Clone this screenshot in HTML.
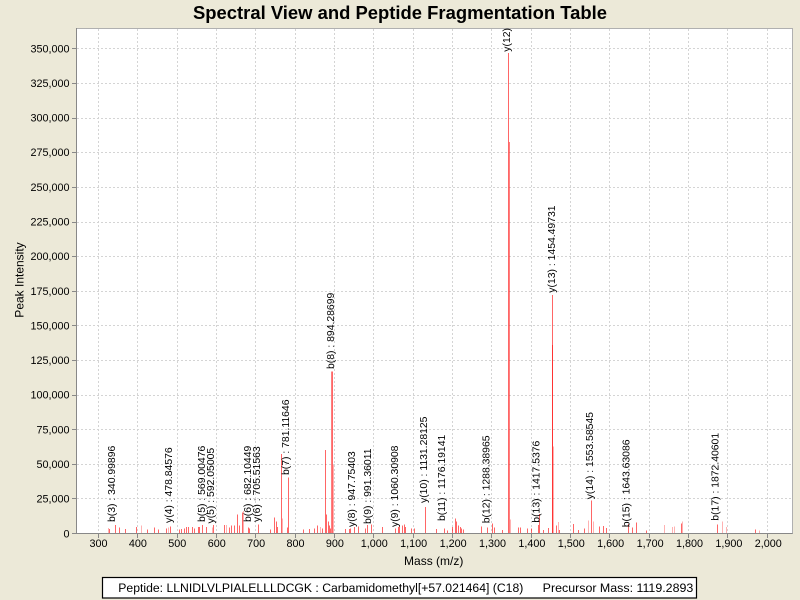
<!DOCTYPE html>
<html><head><meta charset="utf-8"><style>
html,body{margin:0;padding:0;background:#ece9d8;}
svg{display:block;}
text{font-family:"Liberation Sans",Arial,sans-serif;fill:#000;}
</style></head><body>
<svg width="800" height="600" viewBox="0 0 800 600" xmlns="http://www.w3.org/2000/svg">
<rect x="0" y="0" width="800" height="600" fill="#ece9d8"/>
<text x="400" y="19" text-anchor="middle" font-size="18" font-weight="bold" textLength="414" lengthAdjust="spacingAndGlyphs">Spectral View and Peptide Fragmentation Table</text>
<defs><clipPath id="pc"><rect x="76.5" y="28.5" width="716" height="505"/></clipPath></defs>
<rect x="76.5" y="28.5" width="716" height="505" fill="#fff" stroke="#b0b0b0" stroke-width="1"/>
<g stroke="#d4d4d4" stroke-width="1" stroke-dasharray="2,2" shape-rendering="crispEdges">
<path d="M98.5 29V533M137.5 29V533M177.5 29V533M216.5 29V533M255.5 29V533M295.5 29V533M334.5 29V533M373.5 29V533M413.5 29V533M452.5 29V533M491.5 29V533M531.5 29V533M570.5 29V533M609.5 29V533M649.5 29V533M688.5 29V533M727.5 29V533M767.5 29V533"/>
<path d="M77 48.5H792M77 83.5H792M77 118.5H792M77 152.5H792M77 187.5H792M77 222.5H792M77 256.5H792M77 291.5H792M77 325.5H792M77 360.5H792M77 395.5H792M77 429.5H792M77 464.5H792M77 498.5H792"/>
</g>
<g clip-path="url(#pc)" shape-rendering="crispEdges" fill="none">
<path stroke="#ff0000" stroke-opacity="0.6" stroke-width="1" d="M109.5 529V533.5M115.5 525V533.5M119.5 527.7V533.5M125.5 529V533.5M136.5 527V533.5M147.5 529.7V533.5M154.5 527.7V533.5M158.5 529.7V533.5M166.5 528.3V533.5M170.5 526.7V533.5M179.5 529.7V533.5M181.5 529V533.5M184.5 528.3V533.5M186.5 527V533.5M188.5 527V533.5M192.5 527V533.5M194.5 528.3V533.5M198.5 527V533.5M199.5 527V533.5M202.5 525V533.5M206.5 527V533.5M213.5 525V533.5M224.5 525V533.5M229.5 527.7V533.5M231.5 525.7V533.5M234.5 525.7V533.5M237.5 514.3V533.5M239.5 525.7V533.5M242.5 512.3V533.5M248.5 527.7V533.5M249.5 528.3V533.5M258.5 524.3V533.5M270.5 529.7V533.5M274.5 517.7V533.5M276.5 521.7V533.5M277.5 527V533.5M281.5 454V533.5M287.5 527.7V533.5M288.5 477.7V533.5M303.5 529.7V533.5M309.5 529V533.5M314.5 528.3V533.5M317.5 525.7V533.5M322.5 528.3V533.5M325.5 450V533.5M326.5 514.3V533.5M328.5 521.7V533.5M329.5 525.7V533.5M330.5 528.3V533.5M332.5 371.7V533.5M345.5 529V533.5M349.5 529V533.5M350.5 528.3V533.5M354.5 527V533.5M358.5 526.3V533.5M365.5 528.3V533.5M367.5 525V533.5M371.5 524.3V533.5M382.5 527V533.5M395.5 528.3V533.5M398.5 527V533.5M399.5 525.7V533.5M402.5 525.7V533.5M404.5 524.3V533.5M405.5 527V533.5M411.5 528.3V533.5M414.5 528.3V533.5M425.5 507V533.5M436.5 529V533.5M444.5 528.3V533.5M447.5 530.3V533.5M452.5 527V533.5M455.5 518.3V533.5M456.5 521.7V533.5M458.5 525.7V533.5M460.5 527V533.5M461.5 528.3V533.5M463.5 529.7V533.5M481.5 526.7V533.5M487.5 527.3V533.5M492.5 523.3V533.5M494.5 527.3V533.5M502.5 530V533.5M508.5 53V533.5M518.5 527.3V533.5M520.5 527.3V533.5M527.5 528.7V533.5M531.5 528.7V533.5M538.5 525V533.5M539.5 514V533.5M543.5 530V533.5M548.5 528V533.5M552.5 295V533.5M556.5 525.3V533.5M559.5 530V533.5M573.5 524V533.5M578.5 530V533.5M584.5 528.7V533.5M591.5 500.7V533.5M599.5 526.7V533.5M603.5 526V533.5M606.5 528V533.5M628.5 524V533.5M632.5 527.3V533.5M636.5 522.7V533.5M646.5 530.3V533.5M681.5 523.7V533.5M717.5 524.3V533.5M755.5 529.7V533.5"/>
<path stroke="#ff0000" stroke-opacity="0.3" stroke-width="1" d="M108.5 528V533.5M141.5 525.7V533.5M168.5 527.7V533.5M212.5 527.7V533.5M226.5 525V533.5M243.5 511V533.5M282.5 518.3V533.5M320.5 527V533.5M333.5 465V533.5M510.5 519.3V533.5M553.5 446.7V533.5M558.5 522V533.5M588.5 520.7V533.5M593.5 521.3V533.5M664.5 525V533.5M672.5 527V533.5M674.5 526.3V533.5M682.5 521.7V533.5M722.5 521.7V533.5M726.5 527V533.5M759.5 530.3V533.5"/>
<path stroke="#ff0000" stroke-opacity="0.5" stroke-width="1" d="M509.5 142V533.5M552.5 345V533.5M331.5 371.7V533.5"/>
<g font-size="10.4">
<text transform="translate(115,522) rotate(-90)">b(3) : 340.99896</text>
<text transform="translate(171.8,523) rotate(-90)">y(4) : 478.84576</text>
<text transform="translate(205.2,522) rotate(-90)">b(5) : 569.00476</text>
<text transform="translate(214.2,523.5) rotate(-90)">y(5) : 592.05005</text>
<text transform="translate(250.8,522) rotate(-90)">b(6) : 682.10449</text>
<text transform="translate(260.2,522) rotate(-90)">y(6) : 705.51563</text>
<text transform="translate(288.8,475) rotate(-90)">b(7) : 781.11646</text>
<text transform="translate(334.2,369) rotate(-90)">b(8) : 894.28699</text>
<text transform="translate(354.8,527) rotate(-90)">y(8) : 947.75403</text>
<text transform="translate(371,524) rotate(-90)">b(9) : 991.36011</text>
<text transform="translate(398,527) rotate(-90)">y(9) : 1060.30908</text>
<text transform="translate(427,503) rotate(-90)">y(10) : 1131.28125</text>
<text transform="translate(445.2,521) rotate(-90)">b(11) : 1176.19141</text>
<text transform="translate(489.5,523.3) rotate(-90)">b(12) : 1288.38965</text>
<text transform="translate(510.2,51.7) rotate(-90)">y(12) : 1342.61234</text>
<text transform="translate(539.5,522.7) rotate(-90)">b(13) : 1417.5376</text>
<text transform="translate(555.2,292.7) rotate(-90)">y(13) : 1454.49731</text>
<text transform="translate(592.8,499.3) rotate(-90)">y(14) : 1553.58545</text>
<text transform="translate(629.5,527.3) rotate(-90)">b(15) : 1643.63086</text>
<text transform="translate(718.5,520.7) rotate(-90)">b(17) : 1872.40601</text>
</g>
</g>
<g stroke="#888" stroke-width="1" shape-rendering="crispEdges" fill="none">
<path d="M76.5 28V534M76 533.5H792.5"/>
<path d="M72 48.5H76M72 83.5H76M72 118.5H76M72 152.5H76M72 187.5H76M72 222.5H76M72 256.5H76M72 291.5H76M72 325.5H76M72 360.5H76M72 395.5H76M72 429.5H76M72 464.5H76M72 498.5H76M72 533.5H76"/>
<path d="M98.5 534V538M137.5 534V538M177.5 534V538M216.5 534V538M255.5 534V538M295.5 534V538M334.5 534V538M373.5 534V538M413.5 534V538M452.5 534V538M491.5 534V538M531.5 534V538M570.5 534V538M609.5 534V538M649.5 534V538M688.5 534V538M727.5 534V538M767.5 534V538"/>
</g>
<g font-size="10.8" text-anchor="end">
<text x="69.5" y="52.3">350,000</text>
<text x="69.5" y="87">325,000</text>
<text x="69.5" y="121.6">300,000</text>
<text x="69.5" y="156.2">275,000</text>
<text x="69.5" y="190.9">250,000</text>
<text x="69.5" y="225.5">225,000</text>
<text x="69.5" y="260.2">200,000</text>
<text x="69.5" y="294.8">175,000</text>
<text x="69.5" y="329.4">150,000</text>
<text x="69.5" y="364.1">125,000</text>
<text x="69.5" y="398.7">100,000</text>
<text x="69.5" y="433.4">75,000</text>
<text x="69.5" y="468">50,000</text>
<text x="69.5" y="502.6">25,000</text>
<text x="69.5" y="537.3">0</text>
</g>
<g font-size="10.8" text-anchor="middle">
<text x="98.5" y="547">300</text>
<text x="137.9" y="547">400</text>
<text x="177.3" y="547">500</text>
<text x="216.7" y="547">600</text>
<text x="256.1" y="547">700</text>
<text x="295.5" y="547">800</text>
<text x="334.9" y="547">900</text>
<text x="374.3" y="547">1,000</text>
<text x="413.7" y="547">1,100</text>
<text x="453.1" y="547">1,200</text>
<text x="492.5" y="547">1,300</text>
<text x="531.9" y="547">1,400</text>
<text x="571.3" y="547">1,500</text>
<text x="610.7" y="547">1,600</text>
<text x="650.1" y="547">1,700</text>
<text x="689.5" y="547">1,800</text>
<text x="728.9" y="547">1,900</text>
<text x="768.3" y="547">2,000</text>
</g>
<text x="433.7" y="565" font-size="12" text-anchor="middle">Mass (m/z)</text>
<text transform="translate(23.5,280) rotate(-90)" font-size="12" text-anchor="middle">Peak Intensity</text>
<rect x="102.5" y="577.5" width="594" height="20.5" fill="#fff" stroke="#000" stroke-width="1.2"/>
<text x="118.3" y="592" font-size="12.3" textLength="405" lengthAdjust="spacingAndGlyphs">Peptide: LLNIDLVLPIALELLLDCGK : Carbamidomethyl[+57.021464] (C18)</text>
<text x="542.7" y="592" font-size="12.3" textLength="150.6" lengthAdjust="spacingAndGlyphs">Precursor Mass: 1119.2893</text>
</svg>
</body></html>
